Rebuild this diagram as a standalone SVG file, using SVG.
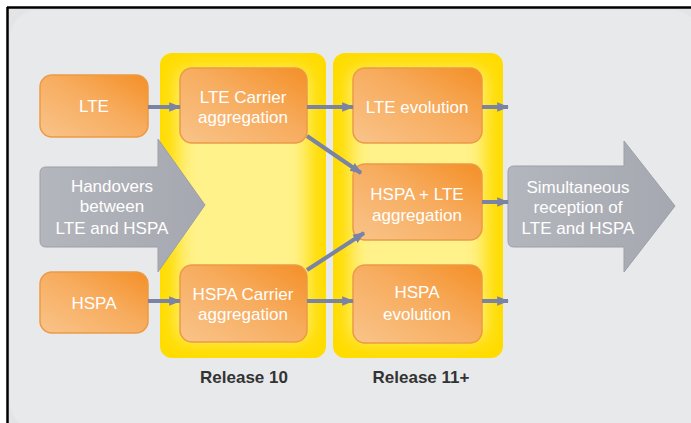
<svg xmlns="http://www.w3.org/2000/svg" width="691" height="423" viewBox="0 0 691 423">
  <defs>
    <linearGradient id="og" x1="0" y1="1" x2="1" y2="0">
      <stop offset="0" stop-color="#f9c48a"/>
      <stop offset="0.55" stop-color="#f7ac5e"/>
      <stop offset="1" stop-color="#f48f26"/>
    </linearGradient>
    <linearGradient id="gg" x1="0" y1="0" x2="1" y2="0">
      <stop offset="0" stop-color="#b4b6bd"/>
      <stop offset="1" stop-color="#a6a8b1"/>
    </linearGradient>
    <filter id="blur" x="-20%" y="-20%" width="140%" height="140%">
      <feGaussianBlur stdDeviation="9"/>
    </filter>
    <marker id="ah" viewBox="0 0 10 10" refX="9" refY="5" markerWidth="3" markerHeight="3" orient="auto" markerUnits="strokeWidth">
      <path d="M0,1 L10,5 L0,9 z" fill="#7a83a4"/>
    </marker>
    <style>
      .box { fill: url(#og); stroke: #eb9a45; stroke-width: 1.5; }
      .txt { font-family: "Liberation Sans", Arial, sans-serif; font-size: 17px; fill: #ffffff; text-anchor: middle; }
      .rel { font-family: "Liberation Sans", Arial, sans-serif; font-size: 17px; font-weight: bold; fill: #333333; text-anchor: middle; }
      .panel { fill: #ffdc00; }
      .panelIn { fill: #fff28a; filter: url(#blur); }
      .bigarrow { fill: url(#gg); stroke: #9d9fa8; stroke-width: 1; }
      .con { stroke: #7a83a4; stroke-width: 4; fill: none; marker-end: url(#ah); }
    </style>
  </defs>

  <rect x="0" y="0" width="691" height="423" fill="#ffffff"/>
  <rect x="8" y="8" width="683" height="415" fill="#e3e4e6"/>
  <rect x="10" y="10" width="690" height="420" rx="28" fill="#e8e9eb"/>
  <line x1="7" y1="7.5" x2="691" y2="7.5" stroke="#000000" stroke-width="2.5"/>
  <line x1="7.5" y1="7" x2="7.5" y2="423" stroke="#000000" stroke-width="2.5"/>

  <g id="release10">
    <rect class="panel" x="160" y="53" width="166" height="305" rx="12"/>
    <rect class="panelIn" x="178" y="70" width="130" height="270" rx="10"/>
    <text class="rel" x="244" y="383">Release 10</text>
  </g>
  <g id="release11">
    <rect class="panel" x="333" y="53" width="170" height="305" rx="12"/>
    <rect class="panelIn" x="351" y="70" width="134" height="270" rx="10"/>
    <text class="rel" x="421" y="383">Release 11+</text>
  </g>

  <g id="handovers">
    <path class="bigarrow" d="M46,167 L158,167 L158,139 L205,205 L158,272 L158,247 L46,247 Q40,247 40,241 L40,173 Q40,167 46,167 z"/>
    <text class="txt" x="112" y="192">Handovers</text>
    <text class="txt" x="112" y="212">between</text>
    <text class="txt" x="112" y="234">LTE and HSPA</text>
  </g>

  <g id="simultaneous">
    <path class="bigarrow" d="M514,166 L624,166 L624,141 L675,206 L624,272 L624,247 L514,247 Q508,247 508,241 L508,172 Q508,166 514,166 z"/>
    <text class="txt" x="578" y="193">Simultaneous</text>
    <text class="txt" x="578" y="213">reception of</text>
    <text class="txt" x="578" y="234">LTE and HSPA</text>
  </g>

  <g id="lte">
    <rect class="box" x="40" y="75" width="108" height="62" rx="12"/>
    <text class="txt" x="94" y="112">LTE</text>
  </g>
  <g id="hspa">
    <rect class="box" x="40" y="272" width="108" height="61" rx="12"/>
    <text class="txt" x="94" y="309">HSPA</text>
  </g>
  <g id="lteCarrier">
    <rect class="box" x="180" y="68" width="127" height="75" rx="12"/>
    <text class="txt" x="243" y="103">LTE Carrier</text>
    <text class="txt" x="243" y="123">aggregation</text>
  </g>
  <g id="hspaCarrier">
    <rect class="box" x="180" y="265" width="127" height="77" rx="12"/>
    <text class="txt" x="243" y="300">HSPA Carrier</text>
    <text class="txt" x="243" y="320">aggregation</text>
  </g>
  <g id="lteEvolution">
    <rect class="box" x="353" y="68" width="129" height="75" rx="12"/>
    <text class="txt" x="417" y="113">LTE evolution</text>
  </g>
  <g id="hspaLte">
    <rect class="box" x="353" y="164" width="129" height="76" rx="12"/>
    <text class="txt" x="417" y="200">HSPA + LTE</text>
    <text class="txt" x="417" y="221">aggregation</text>
  </g>
  <g id="hspaEvolution">
    <rect class="box" x="353" y="265" width="129" height="78" rx="12"/>
    <text class="txt" x="417" y="298">HSPA</text>
    <text class="txt" x="417" y="320">evolution</text>
  </g>

  <g id="connectors">
    <line class="con" x1="148" y1="107" x2="180" y2="107"/>
    <line class="con" x1="307" y1="107" x2="353" y2="107"/>
    <line class="con" x1="482" y1="107" x2="508" y2="107"/>
    <line class="con" x1="307" y1="136" x2="361" y2="173"/>
    <line class="con" x1="307" y1="270" x2="364" y2="233"/>
    <line class="con" x1="482" y1="202" x2="508" y2="202"/>
    <line class="con" x1="148" y1="301" x2="180" y2="301"/>
    <line class="con" x1="307" y1="301" x2="353" y2="301"/>
    <line class="con" x1="482" y1="301" x2="508" y2="301"/>
  </g>
</svg>
